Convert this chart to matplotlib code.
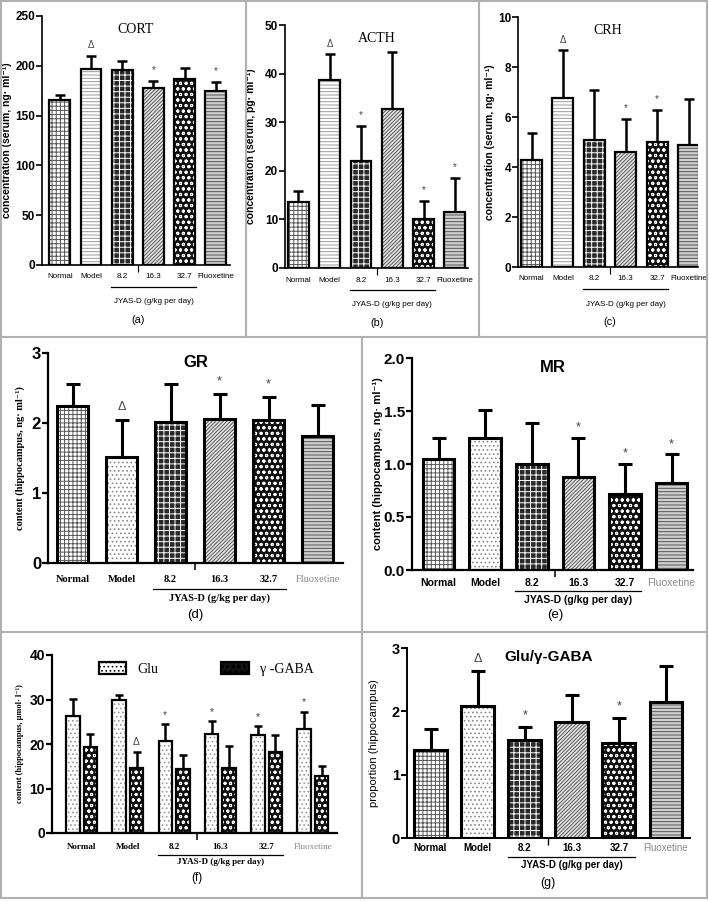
import matplotlib
matplotlib.use("Agg")
import matplotlib.pyplot as plt
from matplotlib.lines import Line2D
from matplotlib.patches import Patch
import numpy as np

W, H = 709, 902
plt.rcParams['hatch.linewidth'] = 0.7

groups = ["Normal", "Model", "8.2", "16.3", "32.7", "Fluoxetine"]
dose_label = "JYAS-D (g/kg per day)"

# ---- data (means and upper error lengths) ----
cort_mean = [166, 196.5, 196, 178, 187, 175]
cort_err = [5, 13.5, 9, 7, 10.5, 9]
cort_mark = ["", "Δ", "", "*", "", "*"]

acth_mean = [13.6, 38.6, 22.1, 32.7, 10.1, 11.6]
acth_err = [2.2, 5.4, 7.1, 11.8, 3.7, 7.0]
acth_mark = ["", "Δ", "*", "", "*", "*"]

crh_mean = [4.29, 6.77, 5.09, 4.60, 5.00, 4.90]
crh_err = [1.08, 1.90, 2.00, 1.33, 1.29, 1.83]
crh_mark = ["", "Δ", "", "*", "*", ""]

gr_mean = [2.24, 1.52, 2.02, 2.06, 2.05, 1.82]
gr_err = [0.32, 0.53, 0.54, 0.35, 0.32, 0.44]
gr_mark = ["", "Δ", "", "*", "*", ""]

mr_mean = [1.046, 1.25, 1.00, 0.88, 0.715, 0.82]
mr_err = [0.204, 0.26, 0.386, 0.37, 0.285, 0.27]
mr_mark = ["", "", "", "*", "*", "*"]

glu_mean = [26.2, 29.9, 20.7, 22.2, 22.1, 23.4]
glu_err = [3.9, 1.0, 3.7, 3.0, 2.0, 3.9]
glu_mark = ["", "", "*", "*", "*", "*"]
gaba_mean = [19.3, 14.6, 14.4, 14.7, 18.1, 12.9]
gaba_err = [3.0, 3.7, 3.2, 4.9, 4.0, 2.1]
gaba_mark = ["", "Δ", "", "", "", ""]

ratio_mean = [1.39, 2.09, 1.54, 1.83, 1.50, 2.14]
ratio_err = [0.33, 0.55, 0.22, 0.43, 0.39, 0.58]
ratio_mark = ["", "Δ", "*", "", "*", ""]

# hatch styles per group: (facecolor, hatch, hatchcolor)
styles = [
    ("white", "++++", "#555555"),
    ("white", "....", "#888888"),
    ("#2a2a2a", "+++", "white"),
    ("#e6e6e6", "/////////", "#555555"),
    ("#111111", "ooo", "white"),
    ("#cfcfcf", "-----", "#555555"),
]
top_model_style = ("white", "-----", "#9a9a9a")

SANS = ["Liberation Sans", "DejaVu Sans"]
SERIF = ["Liberation Serif", "DejaVu Serif"]

fig = plt.figure(figsize=(W / 100, H / 100), dpi=100)


def make_ax(left, top, right, zero):
    return fig.add_axes([left / W, 1 - zero / H, (right - left) / W, (zero - top) / H])


def hbar(ax, x, h, w, style, lw):
    fc, hatch, hc = style
    ax.bar(x, h, w, color=fc, hatch=hatch, edgecolor=hc, linewidth=0, zorder=2)
    ax.bar(x, h, w, fill=False, edgecolor="black", linewidth=lw, zorder=3)


def errbars(ax, x, m, e, lw, cap):
    ax.errorbar(x, m, yerr=[np.zeros(len(m)), e], fmt="none", ecolor="black",
                elinewidth=lw, capsize=cap, capthick=lw, zorder=1)


def marks(ax, x, m, e, mk, fs, dy):
    for xi, mi, ei, s in zip(x, m, e, mk):
        if s:
            ax.annotate(s, (xi, mi + ei), xytext=(0, dy), textcoords="offset points",
                        ha="center", va="bottom", fontsize=fs, color="#444444",
                        family=SANS)


def decorate(ax, ylim, yticks, ytl, xlim, axis_lw, tick_fs, tick_font, tick_weight,
             label_px, under_px, dose_px, letter_px, letter, xl_font, xl_fs, xl_weight,
             fluox_gray, ylabel, yl_px, yl_fs, yl_font, yl_weight, ax_h_px):
    ax.set_ylim(*ylim)
    ax.set_xlim(*xlim)
    ax.set_yticks(yticks)
    ax.set_yticklabels(ytl, fontsize=tick_fs, family=tick_font, fontweight=tick_weight)
    ax.set_xticks([2.5])
    ax.set_xticklabels([""])
    ax.tick_params(axis="x", length=5, width=axis_lw * 0.7, direction="out")
    ax.tick_params(axis="y", length=4, width=axis_lw, direction="out", pad=1)
    for s in ("top", "right"):
        ax.spines[s].set_visible(False)
    for s in ("left", "bottom"):
        ax.spines[s].set_linewidth(axis_lw)
    tr = ax.get_xaxis_transform()
    for i, g in enumerate(groups):
        col = "#888888" if (fluox_gray and g == "Fluoxetine") else "black"
        ax.annotate(g, (i, 0), xycoords=tr, xytext=(0, -label_px * 0.72),
                    textcoords="offset points", ha="center", va="center",
                    fontsize=xl_fs, family=xl_font, fontweight=xl_weight if col == "black" else "normal",
                    color=col)
    yu = -under_px / ax_h_px
    ax.plot([1.65, 4.35], [yu, yu], transform=tr, color="black", lw=0.9, clip_on=False)
    ax.annotate(dose_label, (3, 0), xycoords=tr, xytext=(0, -dose_px * 0.72),
                textcoords="offset points", ha="center", va="center",
                fontsize=xl_fs, family=xl_font, fontweight=xl_weight)
    ax.annotate(letter, (2.5, 0), xycoords=tr, xytext=(0, -letter_px * 0.72),
                textcoords="offset points", ha="center", va="center",
                fontsize=xl_fs + 2, family=SANS)
    ax.set_ylabel(ylabel, fontsize=yl_fs, family=yl_font, fontweight=yl_weight)
    bb_w = ax.get_position().width * W
    ax.yaxis.set_label_coords(yl_px / bb_w, 0.5)


x = np.arange(len(groups))

# ---------- top row ----------
top_panels = [
    ("CORT", (42, 16, 230, 265), cort_mean, cort_err, cort_mark, (0, 250),
     [0, 50, 100, 150, 200, 250], (-0.57, 5.45), "(a)", "concentration (serum, ng· ml⁻¹)", -30),
    ("ACTH", (285, 25, 468, 268), acth_mean, acth_err, acth_mark, (0, 50),
     [0, 10, 20, 30, 40, 50], (-0.43, 5.42), "(b)", "concentration (serum, pg· ml⁻¹)", -29),
    ("CRH", (518, 17, 698, 267), crh_mean, crh_err, crh_mark, (0, 10),
     [0, 2, 4, 6, 8, 10], (-0.43, 5.3), "(c)", "concentration (serum, ng· ml⁻¹)", -23),
]
for title, box, m, e, mk, ylim, yt, xlim, letter, ylab, ylpx in top_panels:
    ax = make_ax(*box)
    for i in range(6):
        st = top_model_style if i == 1 else styles[i]
        hbar(ax, x[i], m[i], 0.67, st, 1.6)
    errbars(ax, x, m, e, 1.8, 3.5)
    marks(ax, x, m, e, mk, 7, 4)
    ax.text(0.5, 0.97, title, transform=ax.transAxes,
            ha="center", va="top", fontsize=10, family=SERIF)
    decorate(ax, ylim, yt, [str(v) for v in yt], xlim, 1.2, 8.5, SANS, "bold",
             12, 22, 37, 55, letter, SANS, 5.8, "normal", False,
             ylab, ylpx, 7.5, SANS, "bold", box[3] - box[1])

# ---------- (d) GR ----------
ax = make_ax(48, 353, 343, 563)
for i in range(6):
    hbar(ax, x[i], gr_mean[i], 0.63, styles[i], 2.2)
errbars(ax, x, gr_mean, gr_err, 2.2, 5)
marks(ax, x, gr_mean, gr_err, gr_mark, 9, 5)
ax.text(0.5, 0.99, "GR", transform=ax.transAxes, ha="center", va="top",
        fontsize=12, family=SANS, fontweight="bold")
decorate(ax, (0, 3), [0, 1, 2, 3], ["0", "1", "2", "3"], (-0.5, 5.52), 1.6, 12, SANS, "bold",
         17, 26, 35, 52, "(d)", SERIF, 7.5, "bold", True,
         "content (hippocampus, ng· ml⁻¹)", -23, 7.5, SERIF, "bold", 210)

# ---------- (e) MR ----------
ax = make_ax(412, 358, 693, 570)
for i in range(6):
    hbar(ax, x[i], mr_mean[i], 0.68, styles[i], 2.2)
errbars(ax, x, mr_mean, mr_err, 2.2, 5)
marks(ax, x, mr_mean, mr_err, mr_mark, 9, 3)
ax.text(0.5, 0.99, "MR", transform=ax.transAxes, ha="center", va="top",
        fontsize=12, family=SANS, fontweight="bold")
decorate(ax, (0, 2), [0, 0.5, 1, 1.5, 2], ["0.0", "0.5", "1.0", "1.5", "2.0"], (-0.57, 5.46),
         1.6, 11, SANS, "bold", 13, 21, 30, 45, "(e)", SANS, 7.5, "bold", True,
         "content (hippocampus, ng· ml⁻¹)", -29, 8, SANS, "bold", 212)

# ---------- (f) Glu / GABA ----------
ax = make_ax(52, 655, 337, 833)
off = 0.19
bw = 0.29
glu_style = ("white", "....", "#999999")
gaba_style = ("#111111", "ooo", "white")
for i in range(6):
    hbar(ax, x[i] - off, glu_mean[i], bw, glu_style, 1.6)
    hbar(ax, x[i] + off, gaba_mean[i], bw, gaba_style, 1.6)
errbars(ax, x - off, glu_mean, glu_err, 1.8, 3)
errbars(ax, x + off, gaba_mean, gaba_err, 1.8, 3)
marks(ax, x - off, glu_mean, glu_err, glu_mark, 7.5, 3)
marks(ax, x + off, gaba_mean, gaba_err, gaba_mark, 7.5, 3)
h1 = Patch(facecolor="white", hatch="....", edgecolor="black", linewidth=1.6)
h2 = Patch(facecolor="#111111", hatch="ooo", edgecolor="black", linewidth=1.6)
ax.legend([h1, h2], ["Glu", "γ -GABA"], loc="upper left", bbox_to_anchor=(0.12, 1.03),
          ncol=2, frameon=False, columnspacing=4.5, handlelength=2.0, handleheight=0.9,
          prop={"family": SERIF, "size": 10})
decorate(ax, (0, 40), [0, 10, 20, 30, 40], ["0", "10", "20", "30", "40"], (-0.64, 5.52),
         1.6, 10, SANS, "bold", 14, 22, 29, 45, "(f)", SERIF, 6.5, "bold", True,
         "content (hippocampus, μmol· l⁻¹)", -28, 6, SERIF, "bold", 178)

# ---------- (g) ratio ----------
ax = make_ax(407, 648, 690, 838)
for i in range(6):
    hbar(ax, x[i], ratio_mean[i], 0.70, styles[i], 2.2)
errbars(ax, x, ratio_mean, ratio_err, 2.2, 5)
marks(ax, x, ratio_mean, ratio_err, ratio_mark, 9, 4)
ax.text(0.5, 0.99, "Glu/γ-GABA", transform=ax.transAxes, ha="center", va="top",
        fontsize=11, family=SANS, fontweight="bold")
decorate(ax, (0, 3), [0, 1, 2, 3], ["0", "1", "2", "3"], (-0.5, 5.51), 1.4, 10.5, SANS, "bold",
         10, 19, 27, 45, "(g)", SANS, 7, "bold", True,
         "proportion (hippocampus)", -28, 8, SANS, "normal", 190)

# ---------- panel frame lines ----------
def fline(x0, y0, x1, y1):
    fig.add_artist(Line2D([x0 / W, x1 / W], [1 - y0 / H, 1 - y1 / H], color="#b0b0b0", lw=1.5))

fline(1, 1, 707, 1)
fline(1, 898, 707, 898)
fline(1, 1, 1, 898)
fline(707, 1, 707, 898)
fline(1, 337, 707, 337)
fline(1, 632, 707, 632)
fline(246, 1, 246, 337)
fline(479, 1, 479, 337)
fline(362, 337, 362, 898)

fig.savefig("out.png", dpi=100)
